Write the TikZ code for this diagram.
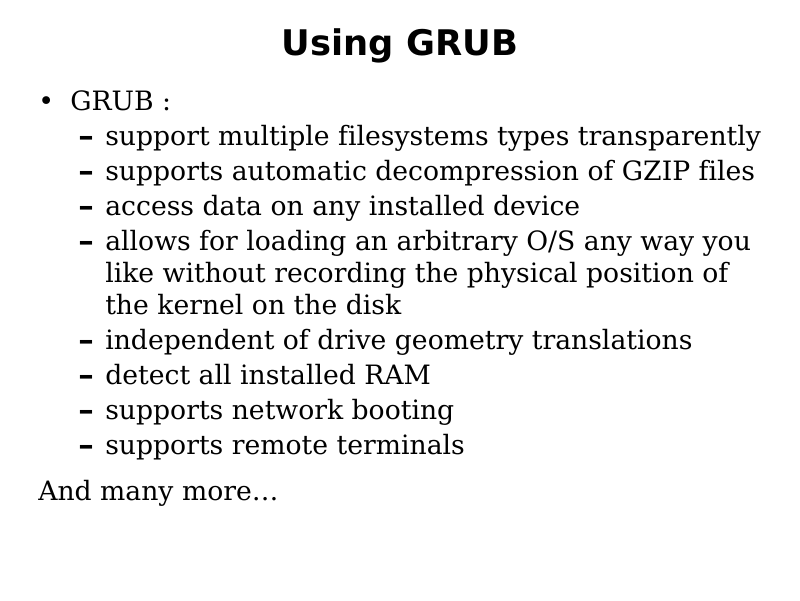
\documentclass[tikz,border=0pt]{standalone}
\usepackage{fontspec}
\setmainfont[Ligatures={NoCommon}]{DejaVu Serif}
\newfontfamily\titlefont{DejaVu Sans}
\usetikzlibrary{positioning}
\tikzset{
  slidetitle/.style={anchor=base, inner sep=0pt, font=\titlefont\bfseries\fontsize{25.1}{30}\selectfont},
  slidetext/.style={anchor=base west, inner sep=0pt, font=\fontsize{18.95}{22}\selectfont},
  dashmark/.style={anchor=base west, inner sep=0pt, font=\bfseries\fontsize{22}{26}\selectfont},
  subline/.style={slidetext}
}
\begin{document}
\begin{tikzpicture}[x=0.025cm, y=-0.025cm]
\useasboundingbox[fill=white] (0,0) rectangle (800,600);
% Title
\node[slidetitle] (title) at (400,55) {Using GRUB};

% First level
\node[slidetext] (bul) at (38,110) {\titlefont\fontsize{19}{20}\selectfont •};
\node[slidetext] (grub) at (70,110) {GRUB :};

% Second level dashes
\foreach \y/\n in {145/a,180/b,215/c,250/d,349/e,384/f,419/g,454/h}
  \node[dashmark] (dash\n) at (78,\y+1) {–};

% Second level items
\node[subline] (itema) at (105,145) {support multiple filesystems types transparently};
\node[subline] (itemb) at (105,180) {supports automatic decompression of GZIP files};
\node[subline] (itemc) at (105,215) {access data on any installed device};
\node[subline] (itemd) at (105,250) {allows for loading an arbitrary O/S any way you};
\node[subline] (itemd2) at (105,282) {like without recording the physical position of};
\node[subline] (itemd3) at (105,314) {the kernel on the disk};
\node[subline] (iteme) at (105,349) {independent of drive geometry translations};
\node[subline] (itemf) at (105,384) {detect all installed RAM};
\node[subline] (itemg) at (105,419) {supports network booting};
\node[subline] (itemh) at (105,454) {supports remote terminals};

% Closing line
\node[slidetext] (more) at (38,500) {And many more\dots};
\end{tikzpicture}
\end{document}
